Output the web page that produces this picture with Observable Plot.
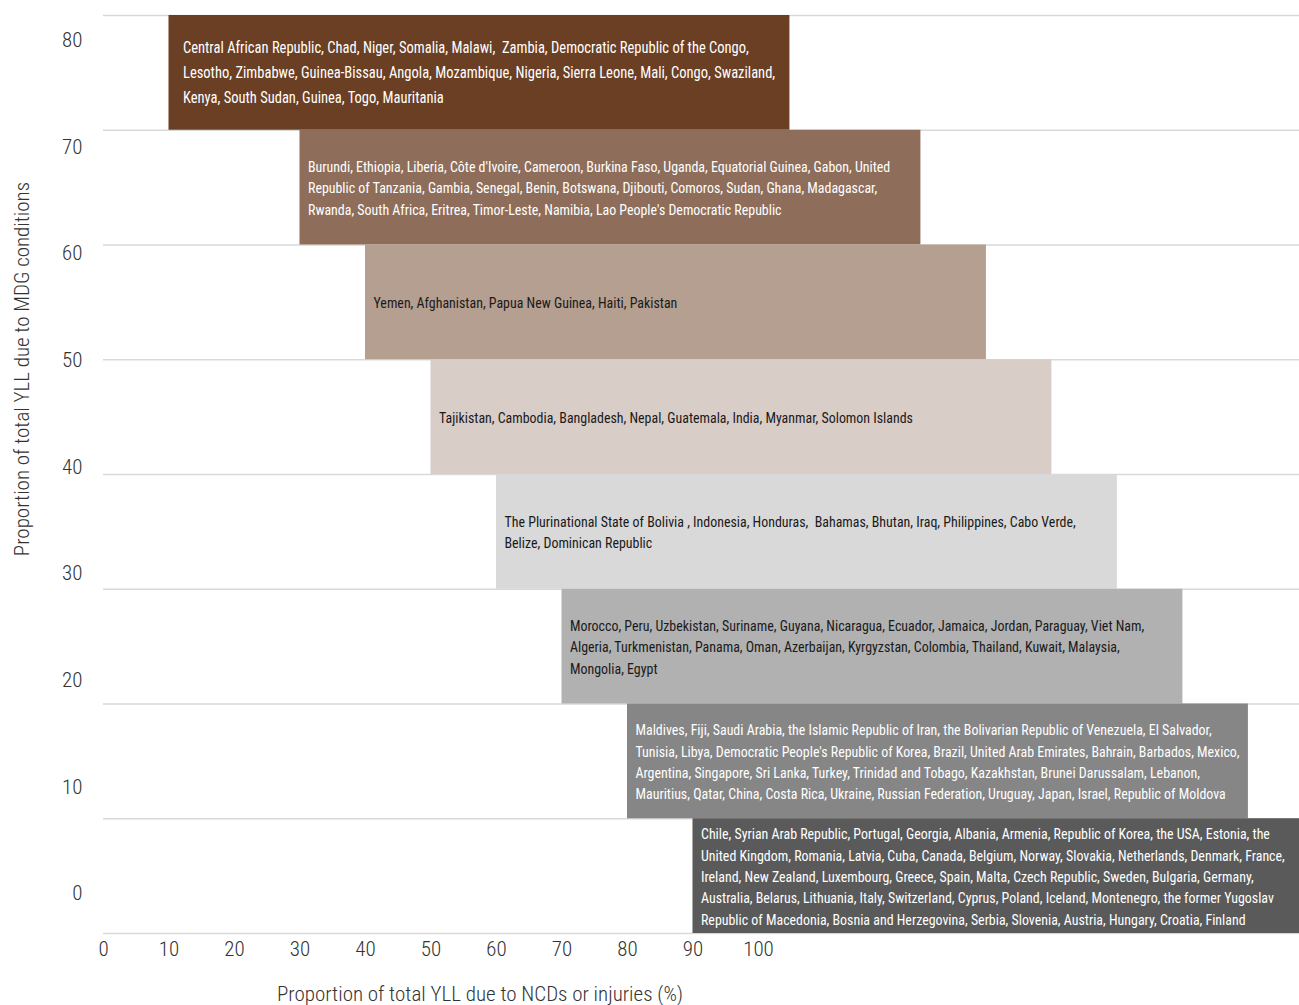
<!DOCTYPE html>
<html>
<head>
<meta charset="utf-8">
<script src="https://cdn.jsdelivr.net/npm/d3@7"></script>
<script src="https://cdn.jsdelivr.net/npm/@observablehq/plot@0.6"></script>
<style>
  html, body { margin: 0; padding: 0; background: #fff; overflow: hidden; }
  #wrap { position: relative; width: 1299px; height: 1005px; }
  #main, #yaxis { position: absolute; left: 0; top: 0; }
  .ttl { position: absolute; font-size: 21px; color: #333; white-space: nowrap; font-weight: 300; }
  #xtitle { left: 480px; top: 994px; transform: translate(-50%, -50%); }
  #ytitle { left: 22px; top: 369px; transform: translate(-50%, -50%) rotate(-90deg); }
</style>
</head>
<body>
<div id="wrap">
  <div id="main"></div>
  <div id="yaxis"></div>
  <div class="ttl" id="xtitle">Proportion of total YLL due to NCDs or injuries (%)</div>
  <div class="ttl" id="ytitle">Proportion of total YLL due to MDG conditions</div>
</div>
<script>
// ---- data ----
const mdgLow = [70, 60, 50, 40, 30, 20, 10, 0];            // band lower bound (MDG %)
const mdgHigh = [80, 70, 60, 50, 40, 30, 20, 10];          // band upper bound
const ncdStart = [10, 30, 40, 50, 60, 70, 80, 90];          // bar start (NCD %)
const ncdEnd = [104.8, 124.8, 134.8, 144.8, 154.8, 164.8, 174.8, 184.8];
const countries = [
  "Central African Republic, Chad, Niger, Somalia, Malawi,  Zambia, Democratic Republic of the Congo,\nLesotho, Zimbabwe, Guinea-Bissau, Angola, Mozambique, Nigeria, Sierra Leone, Mali, Congo, Swaziland,\nKenya, South Sudan, Guinea, Togo, Mauritania",
  "Burundi, Ethiopia, Liberia, Côte d'Ivoire, Cameroon, Burkina Faso, Uganda, Equatorial Guinea, Gabon, United\nRepublic of Tanzania, Gambia, Senegal, Benin, Botswana, Djibouti, Comoros, Sudan, Ghana, Madagascar,\nRwanda, South Africa, Eritrea, Timor-Leste, Namibia, Lao People's Democratic Republic",
  "Yemen, Afghanistan, Papua New Guinea, Haiti, Pakistan",
  "Tajikistan, Cambodia, Bangladesh, Nepal, Guatemala, India, Myanmar, Solomon Islands",
  "The Plurinational State of Bolivia , Indonesia, Honduras,  Bahamas, Bhutan, Iraq, Philippines, Cabo Verde,\nBelize, Dominican Republic",
  "Morocco, Peru, Uzbekistan, Suriname, Guyana, Nicaragua, Ecuador, Jamaica, Jordan, Paraguay, Viet Nam,\nAlgeria, Turkmenistan, Panama, Oman, Azerbaijan, Kyrgyzstan, Colombia, Thailand, Kuwait, Malaysia,\nMongolia, Egypt",
  "Maldives, Fiji, Saudi Arabia, the Islamic Republic of Iran, the Bolivarian Republic of Venezuela, El Salvador,\nTunisia, Libya, Democratic People's Republic of Korea, Brazil, United Arab Emirates, Bahrain, Barbados, Mexico,\nArgentina, Singapore, Sri Lanka, Turkey, Trinidad and Tobago, Kazakhstan, Brunei Darussalam, Lebanon,\nMauritius, Qatar, China, Costa Rica, Ukraine, Russian Federation, Uruguay, Japan, Israel, Republic of Moldova",
  "Chile, Syrian Arab Republic, Portugal, Georgia, Albania, Armenia, Republic of Korea, the USA, Estonia, the\nUnited Kingdom, Romania, Latvia, Cuba, Canada, Belgium, Norway, Slovakia, Netherlands, Denmark, France,\nIreland, New Zealand, Luxembourg, Greece, Spain, Malta, Czech Republic, Sweden, Bulgaria, Germany,\nAustralia, Belarus, Lithuania, Italy, Switzerland, Cyprus, Poland, Iceland, Montenegro, the former Yugoslav\nRepublic of Macedonia, Bosnia and Herzegovina, Serbia, Slovenia, Austria, Hungary, Croatia, Finland"
];
const bandColors = ["#6b3f24", "#8e6e5a", "#b59f90", "#d9cdc8", "#d9d9d9", "#b1b1b1", "#868686", "#5a5a5a"];
const textColors = ["#ffffff", "#ffffff", "#1a1a1a", "#1a1a1a", "#1a1a1a", "#1a1a1a", "#ffffff", "#ffffff"];
const xTicks = [0, 10, 20, 30, 40, 50, 60, 70, 80, 90, 100];
const yTicks = [0, 10, 20, 30, 40, 50, 60, 70, 80];
const gridValues = [0, 10, 20, 30, 40, 50, 60, 70, 80];

// ---- font detection: prefer a condensed face if installed ----
function hasFont(name) {
  const c = document.createElement("canvas").getContext("2d");
  const s = "abcdefghijklmnopqrstuvwxyz ABCDEFGHIJKLMNOPQRSTUVWXYZ 0123456789";
  const res = [];
  for (const base of ["monospace", "serif", "sans-serif"]) {
    c.font = `20px ${base}`; const w0 = c.measureText(s).width;
    c.font = `20px "${name}", ${base}`; const w1 = c.measureText(s).width;
    res.push(Math.abs(w0 - w1) > 0.5);
  }
  return res.every(Boolean);
}
const condensedCandidates = ["Liberation Sans Narrow", "Roboto Condensed", "DejaVu Sans Condensed", "Open Sans Condensed", "Arial Narrow", "Nimbus Sans Narrow"];
const condensed = condensedCandidates.find(hasFont);
const bandFont = condensed ? `"${condensed}", Roboto, sans-serif` : `Roboto, "Liberation Sans", sans-serif`;
const axisFont = bandFont;
document.querySelectorAll(".ttl").forEach(el => el.style.fontFamily = axisFont);

const bands = mdgLow.map((lo, i) => ({
  lo, hi: mdgHigh[i], x1: ncdStart[i], x2: ncdEnd[i],
  label: countries[i], i
}));

const padFirst = 14, padRest = 8;

const main = Plot.plot({
  width: 1299,
  height: 960,
  marginLeft: 103,
  marginRight: 0,
  marginTop: 15,
  marginBottom: 27,
  style: { fontFamily: axisFont, fontSize: "21px", color: "#333", background: "white", overflow: "hidden" },
  x: { domain: [0, 182.6] },
  y: { domain: [0, 80], axis: null },
  color: { type: "ordinal", domain: d3.range(8), range: bandColors },
  marks: [
    Plot.ruleY(gridValues, { stroke: "#d9d9d9", strokeWidth: 1.5 }),
    Plot.rectX(bands, { x1: "x1", x2: "x2", y1: "lo", y2: "hi", fill: "i", clip: "frame" }),
    Plot.text(bands.filter(d => d.i === 0), {
      x: "x1", y: d => (d.lo + d.hi) / 2, text: "label",
      dx: padFirst, dy: -3, textAnchor: "start", lineAnchor: "middle",
      fill: d => textColors[d.i], fontSize: 16.5, lineHeight: 1.52,
      fontFamily: bandFont, className: "band-first"
    }),
    Plot.text(bands.filter(d => d.i > 0), {
      x: "x1", y: d => (d.lo + d.hi) / 2, text: "label",
      dx: padRest, dy: -1, textAnchor: "start", lineAnchor: "middle",
      fill: d => textColors[d.i], fontSize: 15.5, lineHeight: 1.375,
      fontFamily: bandFont, className: "band-rest"
    }),
    Plot.axisX({ ticks: xTicks, tickSize: 0, tickPadding: 8, label: null, fontSize: 21, fill: "#333", fontWeight: 300 })
  ]
});
document.getElementById("main").appendChild(main);

// Fit the widest line of the lists inside the bars (bar width minus padding on both sides)
const xs = main.scale("x");
function fitGroup(cls, barIndex, pad) {
  const texts = [...main.querySelectorAll(`g.${cls} text`)];
  if (!texts.length) return;
  const barW = xs.apply(ncdEnd[barIndex]) - xs.apply(ncdStart[barIndex]);
  let maxW = 0;
  for (const t of texts) maxW = Math.max(maxW, t.getBBox().width);
  const s = (barW - 2 * pad) / maxW;
  for (const t of texts) {
    const tr = t.getAttribute("transform") || "";
    t.setAttribute("transform", `${tr} scale(${s},1)`);
  }
}
fitGroup("band-first", 0, padFirst);
fitGroup("band-rest", 6, padRest);

const yax = Plot.plot({
  width: 90,
  height: 960,
  marginLeft: 90,
  marginRight: 0,
  marginTop: 40,
  marginBottom: 67,
  style: { fontFamily: axisFont, fontSize: "21px", color: "#333", background: "transparent" },
  y: { domain: [0, 80] },
  marks: [
    Plot.axisY({ ticks: yTicks, tickSize: 0, tickPadding: 8, label: null, fontSize: 21, fill: "#333", fontWeight: 300 })
  ]
});
document.getElementById("yaxis").appendChild(yax);
</script>
</body>
</html>
